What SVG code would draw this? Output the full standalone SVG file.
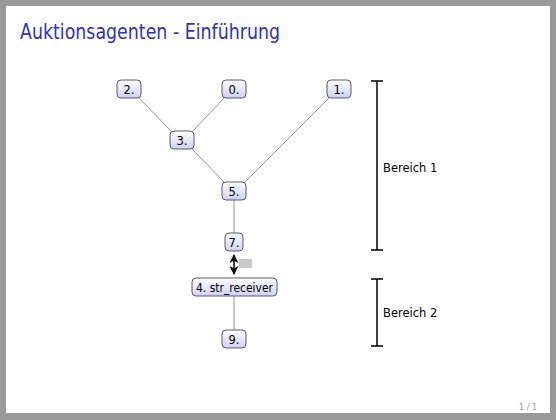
<svg xmlns="http://www.w3.org/2000/svg" width="556" height="420" viewBox="0 0 556 420">
<defs>
<linearGradient id="g" x1="0" y1="0" x2="0" y2="1">
<stop offset="0" stop-color="#ffffff"/>
<stop offset="1" stop-color="#cfcff5"/>
</linearGradient>
<marker id="ah" viewBox="0 0 10 10" refX="9" refY="5" markerWidth="6" markerHeight="6" orient="auto-start-reverse">
<path d="M0,0 L10,5 L0,10 L3,5 z" fill="#000"/>
</marker>
<style>
.n rect{fill:url(#g);stroke:#5a5a6a;stroke-width:1}
.n text{font-family:"DejaVu Sans","Liberation Sans",sans-serif;font-size:11.5px;fill:#000;text-anchor:middle}
.e line{stroke:#777;stroke-width:0.8}
.lbl{font-family:"DejaVu Sans","Liberation Sans",sans-serif;font-size:11.5px;fill:#000}
.br{stroke:#000;stroke-width:1.5}
</style>
</defs>
<rect x="0" y="0" width="556" height="420" fill="#999"/>
<rect x="6" y="6" width="544" height="407" fill="#fff"/>
<text x="20" y="39" font-family="'DejaVu Sans','Liberation Sans',sans-serif" font-size="21" fill="#3333b3" textLength="260" lengthAdjust="spacingAndGlyphs">Auktionsagenten - Einführung</text>
<g id="connectors" class="e">
<line x1="138" y1="97" x2="173" y2="133"/>
<line x1="225" y1="97" x2="191" y2="133"/>
<line x1="330" y1="97" x2="243" y2="184"/>
<line x1="191" y1="148" x2="226" y2="184"/>
<line x1="234" y1="200" x2="234" y2="234"/>
<line x1="234" y1="296" x2="234" y2="330"/>
<line x1="234" y1="255" x2="234" y2="274" style="stroke:#000;stroke-width:1.5" marker-start="url(#ah)" marker-end="url(#ah)"/>
</g>
<rect x="239" y="259" width="13" height="9" fill="#c8c8c8"/>
<g id="n2" class="n"><rect x="117" y="80" width="24" height="18" rx="4"/><text x="129" y="93.5">2.</text></g>
<g id="n0" class="n"><rect x="222" y="80" width="24" height="18" rx="4"/><text x="234" y="93.5">0.</text></g>
<g id="n1" class="n"><rect x="327" y="80" width="24" height="18" rx="4"/><text x="339" y="93.5">1.</text></g>
<g id="n3" class="n"><rect x="170" y="131" width="24" height="18" rx="4"/><text x="182" y="144.5">3.</text></g>
<g id="n5" class="n"><rect x="222" y="182" width="24" height="18" rx="4"/><text x="234" y="195.5">5.</text></g>
<g id="n7" class="n"><rect x="225" y="233" width="18" height="18" rx="4"/><text x="234" y="246.5">7.</text></g>
<g id="n4" class="n"><rect x="192" y="278" width="85" height="18" rx="4"/><text x="234.5" y="291.5" textLength="77" lengthAdjust="spacingAndGlyphs">4. str_receiver</text></g>
<g id="n9" class="n"><rect x="222" y="330" width="24" height="18" rx="4"/><text x="234" y="343.5">9.</text></g>
<g id="bereich1">
<line class="br" x1="377" y1="81" x2="377" y2="250"/>
<line class="br" x1="371" y1="81" x2="383" y2="81"/>
<line class="br" x1="371" y1="250" x2="383" y2="250"/>
<text class="lbl" x="383" y="172">Bereich 1</text>
</g>
<g id="bereich2">
<line class="br" x1="377" y1="279" x2="377" y2="346"/>
<line class="br" x1="371" y1="279" x2="383" y2="279"/>
<line class="br" x1="371" y1="346" x2="383" y2="346"/>
<text class="lbl" x="383" y="317">Bereich 2</text>
</g>
<text x="537" y="410" font-family="'DejaVu Sans','Liberation Sans',sans-serif" font-size="8" fill="#999" text-anchor="end">1 / 1</text>
</svg>
